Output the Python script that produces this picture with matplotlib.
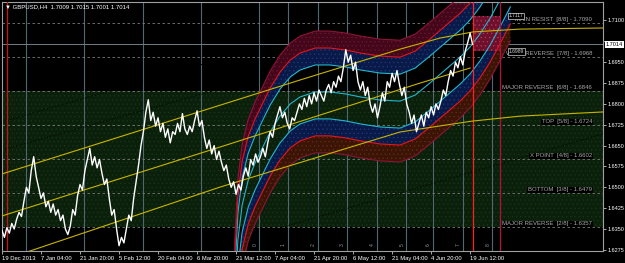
import numpy as np
import matplotlib
matplotlib.use("Agg")
from matplotlib import pyplot as plt
from matplotlib.transforms import blended_transform_factory

# GBPUSD H4 closes, one value every 4 bars starting 19 Dec 2013
step = 4
close = [
    1.6345, 1.6320, 1.6355, 1.6335, 1.6370, 1.6350, 1.6385, 1.6410,
    1.6395, 1.6450, 1.6500, 1.6480, 1.6560, 1.6610, 1.6540, 1.6500,
    1.6460, 1.6480, 1.6430, 1.6450, 1.6410, 1.6440, 1.6400, 1.6420,
    1.6380, 1.6400, 1.6350, 1.6330, 1.6360, 1.6420, 1.6400, 1.6470,
    1.6510, 1.6490, 1.6560, 1.6600, 1.6640, 1.6580, 1.6610, 1.6570,
    1.6600, 1.6550, 1.6510, 1.6530, 1.6460, 1.6400, 1.6420, 1.6350,
    1.6290, 1.6320, 1.6300, 1.6350, 1.6400, 1.6380, 1.6460, 1.6520,
    1.6580, 1.6650, 1.6700, 1.6770, 1.6815, 1.6740, 1.6770, 1.6720,
    1.6750, 1.6700, 1.6730, 1.6680, 1.6710, 1.6660, 1.6700, 1.6690,
    1.6730, 1.6700, 1.6765, 1.6710, 1.6690, 1.6720, 1.6700, 1.6740,
    1.6775, 1.6720, 1.6740, 1.6680, 1.6640, 1.6670, 1.6620, 1.6650,
    1.6600, 1.6630, 1.6590, 1.6560, 1.6580, 1.6530, 1.6500, 1.6520,
    1.6475, 1.6510, 1.6490, 1.6540, 1.6570, 1.6540, 1.6600, 1.6580,
    1.6620, 1.6590, 1.6610, 1.6640, 1.6610, 1.6660, 1.6700, 1.6680,
    1.6730, 1.6760, 1.6790, 1.6750, 1.6770, 1.6730, 1.6710, 1.6750,
    1.6740, 1.6770, 1.6800, 1.6780, 1.6820, 1.6790, 1.6830, 1.6800,
    1.6840, 1.6810, 1.6850, 1.6830, 1.6810, 1.6850, 1.6870, 1.6840,
    1.6880, 1.6860, 1.6900, 1.6880, 1.6930, 1.6995, 1.6950, 1.6975,
    1.6920, 1.6950, 1.6880, 1.6850, 1.6880, 1.6830, 1.6860, 1.6800,
    1.6770, 1.6800, 1.6750, 1.6790, 1.6840, 1.6810, 1.6880, 1.6860,
    1.6910, 1.6880, 1.6920, 1.6870, 1.6830, 1.6860, 1.6800, 1.6770,
    1.6730, 1.6760, 1.6700, 1.6730, 1.6760, 1.6720, 1.6770, 1.6750,
    1.6790, 1.6760, 1.6800, 1.6780, 1.6810, 1.6850, 1.6830, 1.6880,
    1.6920, 1.6900, 1.6950, 1.6930, 1.6970, 1.6940, 1.6990, 1.7020,
    1.7055, 1.7014,
]
bars = np.arange(len(close)) * step

n_bars = 986
date_labels = ['19 Dec 2013', '7 Jan 04:00', '21 Jan 20:00', '5 Feb 12:00',
               '20 Feb 04:00', '6 Mar 20:00', '21 Mar 12:00', '7 Apr 04:00',
               '21 Apr 20:00', '6 May 12:00', '21 May 04:00', '4 Jun 20:00',
               '19 Jun 12:00']
date_bars = [64 * k for k in range(len(date_labels))]
price_ticks = [1.6275, 1.6350, 1.6425, 1.6500, 1.6575, 1.6650, 1.6725,
               1.6800, 1.6875, 1.6950, 1.7025, 1.7100]

# Murrey math levels
mm_names = ['MAIN RESIST  [8/8]', 'WEAK REVERSE  [7/8]', 'MAJOR REVERSE  [6/8]',
            'TOP  [5/8]', 'X POINT  [4/8]', 'BOTTOM  [3/8]', 'MAJOR REVERSE  [2/8]']
mm_levels = [1.7090, 1.6968, 1.6846, 1.6724, 1.6602, 1.6479, 1.6357]

# murrey time lines
time_bars = [39, 135, 231, 327, 422, 469, 518, 566, 615, 663, 707, 756, 804]
time_marks = ['', '', '', '', '0', '1', '2', '3', '4', '5', '6', '7', '8']

# regression channel (yellow)
ch1_bars = [0, 489, 653, 719, 773, 850, 986]
ch1 = [1.6548, 1.6886, 1.6997, 1.7037, 1.7059, 1.7069, 1.7073]
ch2_bars = [0, 358, 686, 768]
ch2 = [1.6397, 1.6645, 1.6875, 1.6929]
ch3_bars = [0, 46, 358, 653, 771, 850, 986]
ch3 = [1.6239, 1.6271, 1.6501, 1.6699, 1.6738, 1.6756, 1.6771]

# std-dev lines (black dotted)
sd1_bars = [0, 358]
sd1 = [1.6735, 1.6961]
sd2_bars = [0, 358]
sd2 = [1.6634, 1.6854]
sd3_bars = [461, 986]
sd3 = [1.6357, 1.6692]

# polynomial envelope
poly_bars = [377, 382, 387, 394, 404, 415, 427, 440, 456, 473, 489, 514, 538,
             563, 588, 620, 653, 678, 702, 727, 752, 768, 784, 801, 817, 834]
poly_mid = [1.5663, 1.6095, 1.6310, 1.6436, 1.6526, 1.6587, 1.6641, 1.6699,
            1.6756, 1.6800, 1.6825, 1.6843, 1.6843, 1.6836, 1.6825, 1.6814,
            1.6810, 1.6832, 1.6875, 1.6922, 1.6969, 1.7005, 1.7051, 1.7109,
            1.7174, 1.7246]
band_off = [0.0097, 0.0158, 0.0219]

# target box
box_bars = [773, 817]
box_prices = [1.6989, 1.7117]

last_price = 1.7014
title = '\u25bc GBPUSD,H4  1.7009 1.7015 1.7001 1.7014'

plt.rcParams['hatch.linewidth'] = 0.4
plt.rcParams['font.family'] = ['Liberation Sans', 'DejaVu Sans']
fig = plt.figure(figsize=(6.25, 2.63), dpi=100, facecolor='black')
ax = fig.add_axes([2 / 625, 12 / 263, 601 / 625, 249 / 263], facecolor='black')
ax.set_xlim(0, n_bars)
ax.set_ylim(1.62709, 1.71665)

# green zone between 6/8 and 2/8
ax.axhspan(mm_levels[6], mm_levels[2], facecolor='#0b200a', edgecolor='#1c361a',
           hatch='....', linewidth=0, zorder=0)

for b in time_bars:
    ax.axvline(b, color='#4f6872', lw=0.8, zorder=1)
for lv in mm_levels:
    ax.axhline(lv, color='#7a7a7a', lw=0.6, ls=(0, (3, 3)), zorder=1)
ax.axhline(last_price, color='#6f8088', lw=0.7, zorder=1)

for xs, ys in [(sd1_bars, sd1), (sd2_bars, sd2), (sd3_bars, sd3)]:
    ax.plot(xs, ys, color='black', lw=0.7, ls=(0, (1, 2)), zorder=1.5)

# envelope bands
mid = np.array(poly_mid)
o1, o2, o3 = band_off
ax.fill_between(poly_bars, mid + o1, mid + o2, facecolor='#0a1a48',
                edgecolor='#1d3a80', hatch='....', linewidth=0, zorder=2)
ax.fill_between(poly_bars, mid + o2, mid + o3, facecolor='#44061a',
                edgecolor='#6a1a30', hatch='....', linewidth=0, zorder=2)
ax.fill_between(poly_bars, mid - o1, mid - o2, facecolor='#0a1a48',
                edgecolor='#1d3a80', hatch='....', linewidth=0, zorder=2)
ax.fill_between(poly_bars, mid - o2, mid - o3, facecolor='#3c1406',
                edgecolor='#603018', hatch='....', linewidth=0, zorder=2)
for sgn in (1, -1):
    ax.plot(poly_bars, mid + sgn * o1, color='#22b6d0', lw=0.8, zorder=3)
    ax.plot(poly_bars, mid + sgn * o2, color='#e8141e', lw=0.8, zorder=3)
    ax.plot(poly_bars, mid + sgn * o3, color='#8c1438', lw=0.8, zorder=3)
ax.plot(poly_bars, mid, color='#22b6d0', lw=0.8, zorder=3)

# target box
ax.fill_between(box_bars, box_prices[0], box_prices[1], facecolor='#6e0f2c',
                edgecolor='#b04060', hatch='....', linewidth=0, zorder=2.5)

ax.axvline(8, color='#c81414', lw=0.9, zorder=3)
ax.axvline(box_bars[0], color='#ff2020', lw=0.9, zorder=3)
ax.axvline(box_bars[1], color='#b0103c', lw=0.9, zorder=3)

for xs, ys in [(ch1_bars, ch1), (ch2_bars, ch2), (ch3_bars, ch3)]:
    ax.plot(xs, ys, color='#c8b400', lw=0.8, zorder=4)

ax.plot(bars, close, color='white', lw=1.0, zorder=5)

# level texts
for name, lv in zip(mm_names, mm_levels):
    ax.text(968, lv + 0.0003, '{} - {:.4f}'.format(name, lv), fontsize=4.3,
            color='#a8a8a8', ha='right', va='bottom', zorder=6,
            bbox=dict(facecolor='black', edgecolor='none', pad=0.4))
for lv in box_prices:
    ax.text(831, lv, '{:.4f}'.format(lv), fontsize=3.6, color='#d0d0d0',
            ha='left', va='center', zorder=7,
            bbox=dict(facecolor='black', edgecolor='#d0d0d0', lw=0.5, pad=0.5))

for b, m in zip(time_bars, time_marks):
    if m:
        ax.text(b - 7, 1.6290, m, fontsize=3.6, color='#8a9aa2', rotation=90,
                ha='center', va='bottom', zorder=6)

ax.set_xticks(date_bars)
ax.set_xticklabels(date_labels, ha='left')
ax.set_yticks(price_ticks)
# the 1.7025 label sits under the current-price box
ax.set_yticklabels(['' if p == 1.7025 else '{:.4f}'.format(p) for p in price_ticks])
ax.yaxis.tick_right()
ax.tick_params(axis='x', colors='#c8c8c8', labelsize=4.2, length=2.5, pad=1.2,
               width=0.6, labelcolor='white')
ax.tick_params(axis='y', colors='#c8c8c8', labelsize=4.0, length=2.5, pad=1.0,
               width=0.6, labelcolor='white')
for s in ax.spines.values():
    s.set_color('#a0a0a0')
    s.set_linewidth(0.8)

trans = blended_transform_factory(ax.transAxes, ax.transData)
ax.text(1.005, last_price, '{:.4f}'.format(last_price), transform=trans,
        fontsize=4.0, color='black', ha='left', va='center', zorder=8,
        clip_on=False, bbox=dict(facecolor='white', edgecolor='none', pad=0.6))

fig.text(5 / 625, 1 - 7 / 263, title, fontsize=4.3, color='white',
         ha='left', va='center')

fig.savefig('out.png', dpi=100, facecolor='black')
